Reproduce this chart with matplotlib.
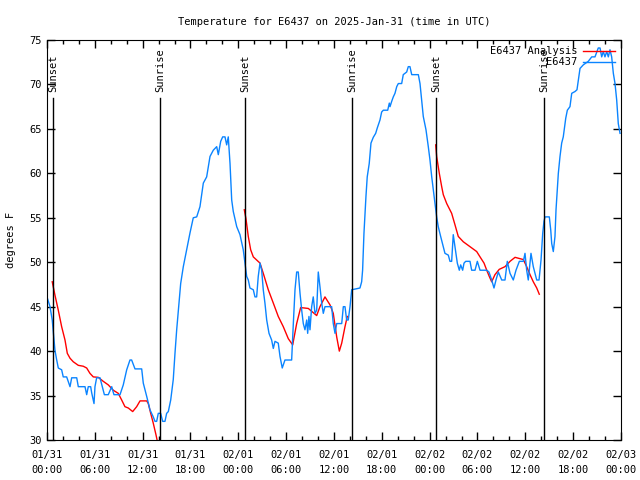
import matplotlib
matplotlib.use('Agg')
import matplotlib.pyplot as plt
import numpy as np
from matplotlib.ticker import MultipleLocator

# hours after 2025-01-31 00:00 UTC
obs_hours = [0.0, 0.38, 0.66, 0.75, 1.0, 1.22, 1.42, 1.84, 2.04, 2.47, 2.89, 3.1, 3.73, 3.93,
             4.77, 4.98, 5.18, 5.48, 5.61, 5.9, 6.02, 6.23, 6.65, 7.06, 7.2, 7.69, 8.12, 8.4,
             9.16, 9.57, 10.0, 10.41, 10.62, 11.04, 11.88, 12.08, 12.51, 12.92, 13.33, 13.55,
             13.76, 13.96, 14.26, 14.51, 14.8, 15.01, 15.22, 15.52, 15.84, 16.06, 16.27, 16.56,
             16.77, 17.1, 17.52, 17.94, 18.35, 18.78, 19.19, 19.61, 20.03, 20.45, 20.86, 21.29,
             21.49, 21.79, 22.04, 22.33, 22.54, 22.74, 22.96, 23.17, 23.37, 23.8, 24.21, 24.62,
             24.84, 25.05, 25.25, 25.46, 25.88, 26.09, 26.3, 26.5, 26.72, 26.93, 27.13, 27.34,
             27.56, 27.85, 28.18, 28.39, 28.6, 29.01, 29.23, 29.51, 29.85, 30.69, 30.9, 31.11,
             31.32, 31.52, 31.74, 31.95, 32.15, 32.36, 32.58, 32.7, 32.86, 32.99, 33.2, 33.4,
             33.62, 33.83, 34.03, 34.24, 34.46, 34.66, 34.87, 35.71, 35.91, 36.13, 36.34, 36.97,
             37.17, 37.38, 37.59, 37.79, 38.01, 38.22, 39.26, 39.47, 39.59, 39.76, 40.01, 40.17,
             40.42, 40.64, 40.93, 41.23, 41.43, 41.77, 41.98, 42.19, 42.74, 42.94, 43.03, 43.24,
             43.44, 43.65, 43.87, 44.07, 44.49, 44.69, 45.12, 45.32, 45.53, 45.75, 46.58, 46.79,
             47.0, 47.2, 47.54, 47.83, 48.04, 48.26, 48.46, 48.67, 48.88, 49.08, 49.38, 49.71,
             49.92, 50.34, 50.55, 50.76, 50.96, 51.18, 51.47, 51.72, 51.89, 52.14, 52.31, 52.52,
             53.06, 53.27, 53.69, 53.98, 54.32, 55.16, 55.44, 55.78, 56.07, 56.32, 56.61, 57.04,
             57.45, 57.74, 58.08, 58.49, 58.83, 59.25, 59.75, 59.96, 60.17, 60.37, 60.71, 61.0,
             61.43, 61.72, 61.97, 62.18, 62.34, 62.47, 63.01, 63.19, 63.31, 63.51, 63.72, 63.85,
             64.01, 64.14, 64.35, 64.56, 64.76, 65.07, 65.27, 65.6, 65.82, 66.23, 66.48, 66.86,
             67.27, 67.9, 68.33, 68.74, 69.15, 69.37, 69.58, 69.78, 69.99, 70.21, 70.41, 70.62,
             70.83, 71.04, 71.25, 71.46, 71.66, 71.88]
obs_temp = [46.1, 45.0, 43.5, 42.6, 40.1, 39.0, 38.1, 37.9, 37.1, 37.1, 36.0, 37.0, 37.0, 36.0,
            36.0, 35.1, 36.0, 36.0, 35.3, 34.1, 36.0, 37.0, 37.0, 35.6, 35.1, 35.1, 36.0, 35.1,
            35.1, 36.2, 37.9, 39.0, 39.0, 38.0, 38.0, 36.4, 34.9, 33.4, 32.6, 32.1,
            32.1, 33.0, 33.0, 32.1, 32.1, 33.0, 33.2, 34.5, 36.8, 39.8, 42.4, 45.4,
            47.6, 49.5, 51.4, 53.3, 55.0, 55.1, 56.25, 58.9, 59.6, 61.9, 62.6, 63.0,
            62.1, 63.6, 64.1, 64.1, 63.2, 64.1, 61.1, 57.0, 55.7, 54.0, 53.1, 51.4,
            49.9, 48.4, 48.0, 47.1, 46.9, 46.1, 46.1, 48.4, 49.9, 49.1, 46.9, 45.4,
            43.5, 42.0, 41.25, 40.3, 41.1, 40.9, 39.4, 38.1, 39.0, 39.0, 43.1, 46.9,
            48.9, 48.9, 46.5, 44.6, 43.1, 42.4, 43.5, 42.0, 43.9, 42.4, 45.0, 46.1,
            44.25, 44.6, 48.9, 47.25, 45.4, 44.25, 45.0, 45.0, 43.1, 42.0, 43.1, 43.1,
            45.0, 45.0, 43.5, 43.5, 45.0, 46.9, 47.1, 47.8, 49.1, 53.25, 57.4, 59.6,
            61.1, 63.4, 64.05, 64.5, 65.1, 66.0, 66.9, 67.1, 67.1, 67.9, 67.5, 68.1,
            68.6, 69.0, 69.75, 70.1, 70.1, 71.1, 71.4, 72.0, 72.0, 71.1, 71.1, 70.1,
            68.25, 66.4, 64.9, 63.0, 61.5, 59.6, 58.1, 56.6, 55.1, 54.0, 52.9, 51.75,
            51.0, 50.8, 50.1, 50.1, 53.1, 51.75, 49.9, 49.1, 49.7, 49.1, 49.9, 50.1,
            50.1, 49.1, 49.1, 50.1, 49.1, 49.1, 48.9, 48.0, 47.1, 48.0, 48.9, 48.0,
            48.0, 50.1, 48.75, 48.0, 49.1, 50.1, 50.1, 51.0, 49.1, 48.0, 51.0, 49.5,
            48.0, 48.0, 50.25, 53.25, 54.6, 55.1, 55.1, 53.6, 52.1, 51.2, 52.9, 55.9,
            58.1, 60.0, 61.9, 63.4, 64.1, 66.2, 67.1, 67.5, 69.0, 69.2, 69.4, 71.8,
            72.2, 72.6, 73.1, 73.1, 74.1, 74.1, 73.1, 73.7, 73.1, 73.7, 73.1, 73.9,
            73.1, 71.25, 70.1, 68.25, 65.6, 64.5]

# analysis, three night segments
ana1_hours = [0.66, 1.0, 1.42, 1.84, 2.26, 2.55, 2.89, 3.3, 3.93, 4.55, 4.98, 5.39, 5.81, 6.44,
              7.06, 7.69, 8.32, 8.94, 9.37, 9.78, 10.2, 10.75, 11.25, 11.67, 12.51, 12.71,
              13.01, 13.33, 13.67, 13.86]
ana1_temp = [47.8, 46.3, 44.6, 42.75, 41.25, 39.75, 39.2, 38.8, 38.4, 38.3, 38.1, 37.5, 37.1, 37.05,
             36.6, 36.2, 35.6, 35.25, 34.5, 33.75, 33.6, 33.2, 33.75, 34.4, 34.4, 34.1,
             33.0, 31.9, 30.6, 29.8]
ana2_hours = [24.75, 24.96, 25.25, 25.55, 25.88, 26.3, 26.72, 27.13, 27.76, 28.39, 29.01, 29.64,
              30.27, 30.82, 31.32, 31.82, 32.78, 33.83, 34.24, 34.87, 35.5, 35.91, 36.34, 36.67,
              36.97, 37.38, 37.67]
ana2_temp = [55.9, 54.9, 52.9, 51.4, 50.6, 50.25, 49.9, 48.75, 46.9, 45.4, 43.9, 42.75,
             41.4, 40.7, 43.1, 44.9, 44.8, 44.0, 45.0, 46.1, 45.2, 44.25, 41.6, 40.0,
             40.9, 42.75, 43.9]
ana3_hours = [48.76, 48.88, 49.21, 49.51, 49.71, 50.14, 50.76, 51.18, 51.59, 52.22, 53.06, 53.9,
              54.32, 54.82, 55.16, 55.48, 55.78, 56.19, 56.73, 57.45, 58.08, 58.71, 59.33, 59.75,
              60.17, 60.59, 61.0, 61.43, 61.75]
ana3_temp = [63.2, 61.9, 60.0, 58.5, 57.6, 56.6, 55.5, 54.2, 52.9, 52.3, 51.75, 51.2,
             50.6, 49.9, 49.1, 48.4, 47.8, 48.6, 49.2, 49.5, 50.1, 50.55, 50.4, 50.3,
             49.5, 48.6, 47.8, 47.1, 46.4]

sun_hours = [0.75, 14.17, 24.84, 38.26, 48.8, 62.34]
sun_labels = ['Sunset', 'Sunrise', 'Sunset', 'Sunrise', 'Sunset', 'Sunrise']

tick_hours = list(range(0, 73, 6))
tick_labels = ['01/31\n00:00', '01/31\n06:00', '01/31\n12:00', '01/31\n18:00',
               '02/01\n00:00', '02/01\n06:00', '02/01\n12:00', '02/01\n18:00',
               '02/02\n00:00', '02/02\n06:00', '02/02\n12:00', '02/02\n18:00',
               '02/03\n00:00']

plt.rcParams['font.family'] = 'DejaVu Sans Mono'
plt.rcParams['font.size'] = 7.5

fig = plt.figure(figsize=(6.4, 4.8), dpi=100)
ax = fig.add_axes([0.0734, 0.0833, 0.8969, 0.8334])

blue = '#0a84ff'
ax.plot(ana1_hours, ana1_temp, color='red', lw=1, label='E6437 Analysis')
ax.plot(ana2_hours, ana2_temp, color='red', lw=1)
ax.plot(ana3_hours, ana3_temp, color='red', lw=1)
ax.plot(obs_hours, obs_temp, color=blue, lw=1, label='E6437')

for h, lab in zip(sun_hours, sun_labels):
    ax.plot([h, h], [30, 68.5], color='black', lw=1)
    ax.text(h, 69.2, lab, rotation=90, ha='center', va='bottom')

ax.set_xlim(0, 72)
ax.set_ylim(30, 75)
ax.set_xticks(tick_hours)
ax.set_xticklabels(tick_labels, linespacing=1.6)
ax.xaxis.set_minor_locator(MultipleLocator(2))
ax.set_yticks(np.arange(30, 76, 5))
ax.tick_params(which='both', direction='in', top=True, right=True, width=1)
ax.tick_params(which='major', length=6)
ax.tick_params(which='minor', length=3)
ax.tick_params(axis='x', pad=7)
ax.set_ylabel('degrees F', labelpad=10)
ax.set_title('Temperature for E6437 on 2025-Jan-31 (time in UTC)', fontsize=7.5, pad=11)

ax.legend(loc='upper right', frameon=False, markerfirst=False, handlelength=3.0,
          borderaxespad=0.2, labelspacing=0.1, handletextpad=0.6)

fig.savefig('out.png', dpi=100)
